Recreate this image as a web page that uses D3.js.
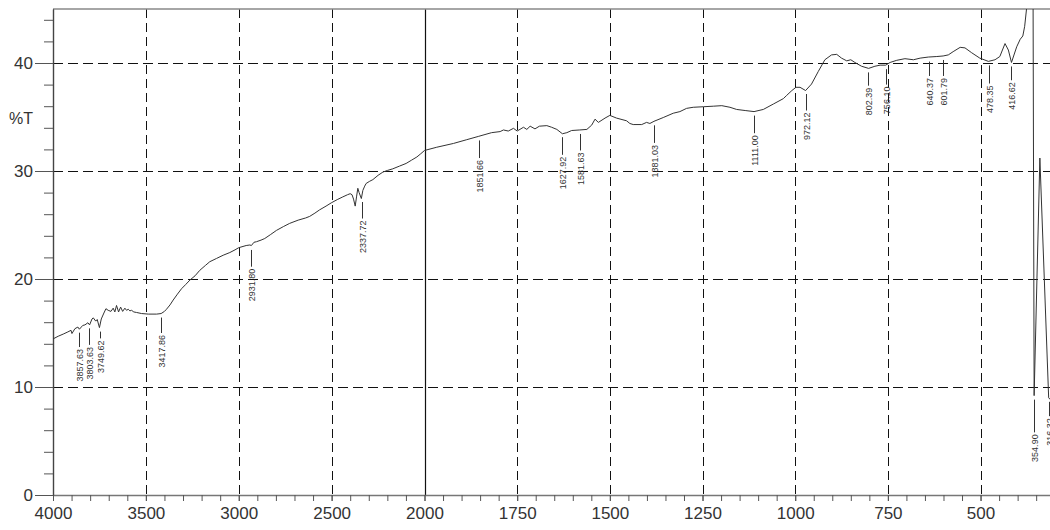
<!DOCTYPE html>
<html><head><meta charset="utf-8">
<script src="https://cdn.jsdelivr.net/npm/d3@7"></script>
<style>
html,body{margin:0;padding:0;background:#fff;}
svg{display:block;font-family:"Liberation Sans",Arial,sans-serif;}
</style></head>
<body><svg id="c" width="1050" height="530"></svg>
<script>
// ---- data ----
const wavenumbers = [4000,3972,3945,3920,3903,3898,3882,3866,3858,3840,3828,3812,3803,3790,3783,3770,3762,3750,3740,3726,3715,3703,3688,3676,3667,3658,3647,3636,3625,3613,3604,3595,3586,3577,3565,3550,3523,3487,3442,3418,3400,3389,3370,3353,3330,3308,3285,3263,3235,3210,3180,3156,3120,3084,3048,3020,3000,2960,2940,2932,2918,2905,2880,2860,2830,2797,2760,2726,2680,2640,2618,2590,2565,2530,2502,2470,2440,2415,2400,2390,2382,2373,2366,2359,2352,2340,2332,2322,2314,2295,2278,2250,2224,2200,2171,2135,2099,2070,2041,2020,2000,1967,1922,1886,1855,1819,1796,1787,1774,1760,1750,1733,1724,1715,1702,1690,1670,1657,1643,1628,1616,1603,1581,1562,1549,1540,1531,1513,1500,1482,1455,1446,1437,1414,1401,1392,1381,1356,1329,1311,1293,1275,1248,1221,1198,1176,1158,1135,1111,1086,1059,1032,1023,1009,998,987,972,956,938,920,902,888,875,861,850,839,821,802,785,771,756,744,726,704,681,663,641,618,601,587,574,555,542,524,502,479,461,448,434,425,416.6,402.5,393,386,381,376,372,366,359,355.5,340,316.3,305];
const transmittance = [14.45,14.7,14.9,15.1,15.25,14.95,15.4,15.55,15.35,15.7,15.75,15.95,15.75,16.3,16.4,16.1,16.25,15.5,16.3,16.85,17.25,17.1,17.0,17.3,16.95,17.55,16.95,17.4,17.0,17.3,17.1,17.2,17.05,17.1,16.95,16.9,16.8,16.75,16.75,16.8,17.0,17.2,17.6,18.05,18.6,19.1,19.5,19.9,20.3,20.8,21.25,21.6,21.9,22.2,22.45,22.7,22.9,23.1,23.15,23.1,23.4,23.45,23.6,23.75,24.1,24.5,24.85,25.15,25.45,25.65,25.8,26.1,26.4,26.75,27.05,27.35,27.6,27.8,27.9,27.8,27.4,26.75,27.6,28.4,28.0,27.45,28.2,28.6,28.85,29.05,29.2,29.6,29.9,30.05,30.2,30.45,30.7,31.0,31.3,31.6,31.9,32.2,32.55,32.9,33.2,33.55,33.65,33.8,33.7,33.95,33.7,34.05,33.85,34.15,33.9,34.15,34.2,34.05,33.85,33.45,33.55,33.75,33.8,33.85,34.25,34.8,34.5,34.9,35.15,34.9,34.65,34.4,34.3,34.3,34.5,34.4,34.6,34.95,35.35,35.5,35.8,35.9,35.95,36.0,36.05,35.9,35.7,35.6,35.5,35.7,36.2,36.7,37.0,37.45,37.75,37.75,37.45,38.05,39.2,40.3,40.75,40.8,40.45,40.2,40.3,40.05,39.7,39.5,39.7,39.8,39.8,40.05,40.25,40.4,40.3,40.45,40.55,40.6,40.65,40.75,41.05,41.45,41.4,40.95,40.45,40.15,40.3,40.6,41.8,41.2,40.05,41.5,42.2,42.5,43.4,45.0,48,55,55,9.2,31.2,9.0,8.6];

const peakWn     = [3857.63,3803.63,3749.62,3417.86,2931.80,2337.72,1851.66,1627.92,1581.63,1381.03,1111.00,972.12,802.39,756.10,640.37,601.79,478.35,416.62,354.90,316.32];
const peakT      = [15.4,15.8,15.5,16.8,23.06,27.5,33.2,33.5,33.8,34.6,35.5,37.5,39.5,39.8,40.5,40.65,40.15,40.05,9.2,9.0];
const peakLabelT = [13.7,13.9,14.5,15.0,21.14,25.6,31.2,31.5,31.9,32.6,33.5,35.6,37.9,38.0,38.8,38.8,38.1,38.4,5.8,7.3];

const xMajorTicks = [4000,3500,3000,2500,2000,1750,1500,1250,1000,750,500];
const yMajorTicks = [0,10,20,30,40];
const yLabel = "%T";

// ---- layout ----
const svg = d3.select("#c");
const plotLeft = 53, plotTop = 9, plotBottom = 495, plotRight = 1050;
const x = d3.scaleLinear().domain([4000, 2000, 300]).range([plotLeft, 424.5, 1054.7]);
const y = d3.scaleLinear().domain([0, 45]).range([plotBottom, plotTop]);

const xMinor = d3.range(4000, 2000, -100).concat(d3.range(2000, 299, -50));
const yMinor = d3.range(0, 45, 2);

// gridlines
const grid = svg.append("g");
yMajorTicks.filter(v => v > 0).forEach(v => {
  grid.append("line").attr("x1", plotLeft).attr("x2", plotRight).attr("y1", Math.round(y(v)) + 0.5).attr("y2", Math.round(y(v)) + 0.5)
    .attr("stroke", "#111").attr("stroke-width", 1).attr("stroke-dasharray", "10,5");
});
xMajorTicks.forEach(v => {
  const gx = Math.round(x(v)) + 0.5;
  grid.append("line").attr("x1", gx).attr("x2", gx).attr("y1", plotTop).attr("y2", plotBottom)
    .attr("stroke", "#111").attr("stroke-width", v === 2000 ? 1.2 : 1)
    .attr("stroke-dasharray", v === 2000 ? null : (v === 4000 ? "9,3" : "9,5"));
});

// top border
svg.append("line").attr("x1", plotLeft).attr("x2", plotRight).attr("y1", plotTop).attr("y2", plotTop)
  .attr("stroke", "#888").attr("stroke-width", 1.6);

// axes
function styleAxis(g){
  g.selectAll(".domain").attr("stroke", "#777").attr("stroke-width", 1.4);
  g.selectAll(".tick line").attr("stroke", "#555");
  g.selectAll("text").attr("fill", "#333").attr("font-size", 17)
    .attr("font-family", '"Liberation Sans", Arial, sans-serif');
}
const xAxisMinor = svg.append("g").attr("transform", `translate(0,${plotBottom})`)
  .call(d3.axisBottom(x).tickValues(xMinor).tickFormat("").tickSize(6).tickSizeOuter(0));
styleAxis(xAxisMinor);
xAxisMinor.select(".domain").attr("d", `M${plotLeft},0.5H${plotRight}`);
const xAxis = svg.append("g").attr("transform", `translate(0,${plotBottom})`)
  .call(d3.axisBottom(x).tickValues(xMajorTicks).tickFormat(d3.format("d")).tickSize(6).tickPadding(6).tickSizeOuter(0));
styleAxis(xAxis);
xAxis.select(".domain").remove();

const yAxisMinor = svg.append("g").attr("transform", `translate(${plotLeft},0)`)
  .call(d3.axisLeft(y).tickValues(yMinor).tickFormat("").tickSize(9).tickSizeOuter(0));
styleAxis(yAxisMinor);
yAxisMinor.select(".domain").attr("stroke", "#444");
const yAxis = svg.append("g").attr("transform", `translate(${plotLeft},0)`)
  .call(d3.axisLeft(y).tickValues(yMajorTicks).tickSize(18).tickPadding(2).tickSizeOuter(0));
styleAxis(yAxis);
yAxis.select(".domain").remove();

svg.append("text").attr("x", 9).attr("y", 124).text(yLabel)
  .attr("font-size", 16).attr("fill", "#333");

// spectrum
svg.append("clipPath").attr("id", "clip").append("rect")
  .attr("x", plotLeft).attr("y", plotTop).attr("width", plotRight - plotLeft).attr("height", plotBottom - plotTop);
const pts = wavenumbers.map((w, i) => [w, transmittance[i]]);
svg.append("path").datum(pts).attr("clip-path", "url(#clip)")
  .attr("fill", "none").attr("stroke", "#333").attr("stroke-width", 1)
  .attr("stroke-linejoin", "round")
  .attr("d", d3.line().x(d => x(d[0])).y(d => y(d[1])));

// peak labels
const pk = svg.append("g");
peakWn.forEach((w, i) => {
  const px = Math.round(x(w)) + 0.5;
  const y0 = y(peakT[i]) + 4, y1 = y(peakLabelT[i]);
  pk.append("line").attr("x1", px).attr("x2", px).attr("y1", y0).attr("y2", y1)
    .attr("stroke", "#333").attr("stroke-width", 1);
  pk.append("text").attr("transform", `translate(${px},${y1 + 2}) rotate(-90)`)
    .attr("text-anchor", "end").attr("dy", "0.35em")
    .attr("font-size", 9).attr("fill", "#333").text(w.toFixed(2));
});
</script></body></html>
